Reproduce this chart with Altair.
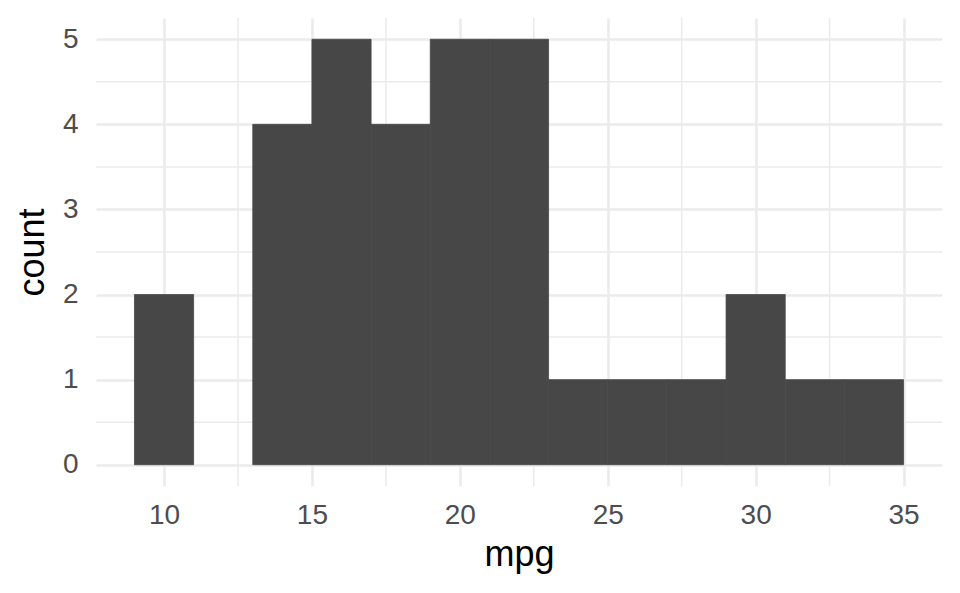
import altair as alt
import pandas as pd

# Histogram of mpg (binwidth 2)
bin_start = [9, 11, 13, 15, 17, 19, 21, 23, 25, 27, 29, 31, 33]
bin_end = [11, 13, 15, 17, 19, 21, 23, 25, 27, 29, 31, 33, 35]
counts = [2, 0, 4, 5, 4, 5, 5, 1, 1, 1, 2, 1, 1]

x_major = [10, 15, 20, 25, 30, 35]
x_minor = [12.5, 17.5, 22.5, 27.5, 32.5]
y_major = [0, 1, 2, 3, 4, 5]
y_minor = [0.5, 1.5, 2.5, 3.5, 4.5]

bars_df = pd.DataFrame({"start": bin_start, "end": bin_end, "count": counts})
xminor_df = pd.DataFrame({"start": x_minor})
yminor_df = pd.DataFrame({"count": y_minor})

W, H = 846, 468
FONT = "Liberation Sans"
GRID = "#EBEBEB"

xscale = alt.Scale(domain=[7.7, 36.3], nice=False, zero=False)
yscale = alt.Scale(domain=[-0.25, 5.25], nice=False, zero=False)

xaxis = alt.Axis(
    values=x_major, grid=True, gridColor=GRID, gridWidth=2.6,
    ticks=False, domain=False, labelFont=FONT, labelFontSize=28,
    labelColor="#4D4D4D", labelPadding=15, title="mpg",
    titleFont=FONT, titleFontSize=36, titleFontWeight="normal",
    titleColor="#000000", titleBaseline="alphabetic",
    titleX=W / 2, titleY=79, titleAlign="center",
)
yaxis = alt.Axis(
    values=y_major, grid=True, gridColor=GRID, gridWidth=2.6,
    ticks=False, domain=False, labelFont=FONT, labelFontSize=28,
    labelColor="#4D4D4D", labelPadding=18, title="count",
    titleFont=FONT, titleFontSize=36, titleFontWeight="normal",
    titleColor="#000000", titleBaseline="alphabetic", titleAngle=270,
    titleX=-53, titleY=H / 2, titleAlign="center",
)

minor_x = alt.Chart(xminor_df).mark_rule(color=GRID, strokeWidth=1.5).encode(
    x=alt.X("start:Q", scale=xscale, axis=xaxis)
)
minor_y = alt.Chart(yminor_df).mark_rule(color=GRID, strokeWidth=1.5).encode(
    y=alt.Y("count:Q", scale=yscale, axis=yaxis)
)

bars = alt.Chart(bars_df).mark_rect(
    color="#474747", stroke="#474747", strokeWidth=0.8
).encode(
    x=alt.X("start:Q", scale=xscale, axis=xaxis),
    x2="end:Q",
    y=alt.Y("count:Q", scale=yscale, axis=yaxis),
    y2=alt.datum(0),
    strokeOpacity=alt.condition("datum.count > 0", alt.value(1), alt.value(0)),
)

chart = alt.layer(minor_x, minor_y, bars).properties(
    width=W, height=H,
    autosize=alt.AutoSizeParams(type="none"),
    padding={"left": 88, "top": 10, "right": 10, "bottom": 99},
    background="#FFFFFF",
).configure_view(stroke=None)

chart.save("out.html", embed_options={"renderer": "svg", "actions": False})
